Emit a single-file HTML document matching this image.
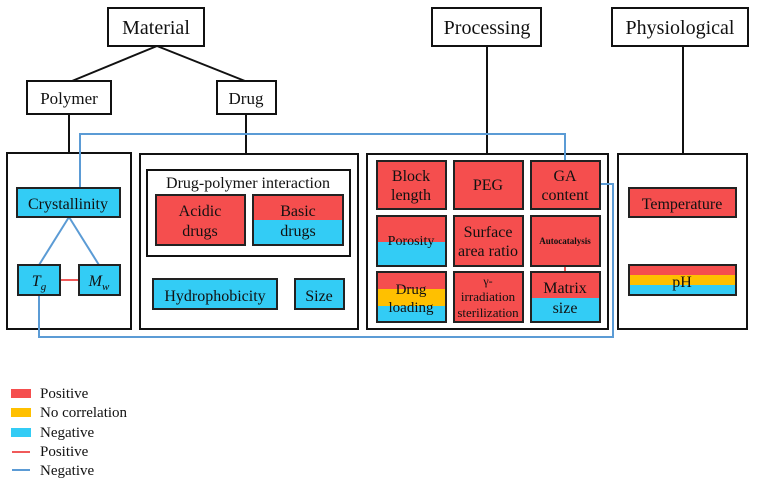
<!DOCTYPE html>
<html><head><style>
body{margin:0;background:#fff;}
svg{display:block;}
text{font-family:"Liberation Serif",serif;fill:#111;}
</style></head><body>
<svg width="758" height="485" viewBox="0 0 758 485" xmlns="http://www.w3.org/2000/svg">
<g stroke="#111" stroke-width="2" fill="none">
<line x1="157" y1="46" x2="72" y2="81"/>
<line x1="157" y1="46" x2="245" y2="81"/>
<line x1="69" y1="114" x2="69" y2="153"/>
<line x1="246" y1="114" x2="246" y2="153"/>
<line x1="487" y1="46" x2="487" y2="154"/>
<line x1="683" y1="46" x2="683" y2="154"/>
<rect x="108" y="8" width="96" height="38" fill="#fff"/>
<rect x="432" y="8" width="109" height="38" fill="#fff"/>
<rect x="612" y="8" width="136" height="38" fill="#fff"/>
<rect x="27" y="81" width="84" height="33" fill="#fff"/>
<rect x="217" y="81" width="59" height="33" fill="#fff"/>
<rect x="7" y="153" width="124" height="176"/>
<rect x="140" y="154" width="218" height="175"/>
<rect x="147" y="170" width="203" height="86"/>
<rect x="367" y="154" width="241" height="175"/>
<rect x="618" y="154" width="129" height="175"/>
</g>
<g font-size="20" text-anchor="middle">
<text x="156" y="34">Material</text>
<text x="487" y="34">Processing</text>
<text x="680" y="34">Physiological</text>
</g>
<g font-size="17" text-anchor="middle">
<text x="69" y="104">Polymer</text>
<text x="246" y="104">Drug</text>
</g>
<g stroke="#5b9bd5" stroke-width="2" fill="none">
<polyline points="80,188 80,134 565,134 565,160"/>
<polyline points="39,295 39,337 613,337 613,184 600,184"/>
<line x1="69" y1="217" x2="39" y2="265"/>
<line x1="69" y1="217" x2="99" y2="265"/>
</g>
<line x1="60" y1="280" x2="79" y2="280" stroke="#f05a5a" stroke-width="2"/>
<line x1="565" y1="266" x2="565" y2="272" stroke="#f05a5a" stroke-width="2"/>
<g stroke="#222" stroke-width="2">
<rect x="17" y="188" width="103" height="29" fill="#33ccf5"/>
<rect x="18" y="265" width="42" height="30" fill="#33ccf5"/>
<rect x="79" y="265" width="41" height="30" fill="#33ccf5"/>
<rect x="156" y="195" width="89" height="50" fill="#f54e4e"/>
<rect x="253" y="195" width="90" height="50" fill="#33ccf5"/>
<rect x="153" y="279" width="124" height="30" fill="#33ccf5"/>
<rect x="295" y="279" width="49" height="30" fill="#33ccf5"/>
<rect x="377" y="161" width="69" height="48" fill="#f54e4e"/>
<rect x="454" y="161" width="69" height="48" fill="#f54e4e"/>
<rect x="531" y="161" width="69" height="48" fill="#f54e4e"/>
<rect x="377" y="216" width="69" height="50" fill="#33ccf5"/>
<rect x="454" y="216" width="69" height="50" fill="#f54e4e"/>
<rect x="531" y="216" width="69" height="50" fill="#f54e4e"/>
<rect x="377" y="272" width="69" height="50" fill="#33ccf5"/>
<rect x="454" y="272" width="69" height="50" fill="#f54e4e"/>
<rect x="531" y="272" width="69" height="50" fill="#33ccf5"/>
<rect x="629" y="188" width="107" height="29" fill="#f54e4e"/>
<rect x="629" y="265" width="107" height="30" fill="#33ccf5"/>
</g>
<g stroke="none">
<rect x="254" y="196" width="88" height="24" fill="#f54e4e"/>
<rect x="378" y="217" width="67" height="25" fill="#f54e4e"/>
<rect x="378" y="273" width="67" height="16" fill="#f54e4e"/>
<rect x="378" y="289" width="67" height="17" fill="#ffc000"/>
<rect x="532" y="273" width="67" height="25" fill="#f54e4e"/>
<rect x="630" y="266" width="105" height="9" fill="#f54e4e"/>
<rect x="630" y="275" width="105" height="10" fill="#ffc000"/>
</g>
<g font-size="16" text-anchor="middle">
<text x="68" y="209">Crystallinity</text>
<text x="39" y="286" font-style="italic">T<tspan font-size="11" dy="4">g</tspan></text>
<text x="99" y="286" font-style="italic">M<tspan font-size="11" dy="4">w</tspan></text>
<text x="248" y="188">Drug-polymer interaction</text>
<text x="200" y="216">Acidic</text><text x="200" y="236">drugs</text>
<text x="298" y="216">Basic</text><text x="298" y="236">drugs</text>
<text x="215" y="301">Hydrophobicity</text>
<text x="319" y="301">Size</text>
<text x="411" y="181">Block</text><text x="411" y="200">length</text>
<text x="488" y="190">PEG</text>
<text x="565" y="181">GA</text><text x="565" y="200">content</text>
<text x="488" y="237">Surface</text><text x="488" y="256">area ratio</text>
<text x="565" y="293">Matrix</text><text x="565" y="313">size</text>
<text x="682" y="209">Temperature</text>
<text x="682" y="287">pH</text>
</g>
<g text-anchor="middle">
<text x="411" y="245" font-size="14">Porosity</text>
<text x="411" y="294" font-size="15">Drug</text><text x="411" y="312" font-size="15">loading</text>
<text x="488" y="285" font-size="12">γ-</text>
<text x="488" y="301" font-size="13">irradiation</text>
<text x="488" y="317" font-size="13">sterilization</text>
<text x="565" y="244" font-size="9" font-weight="bold">Autocatalysis</text>
</g>
<g>
<rect x="11" y="389" width="20" height="9" fill="#f54e4e"/>
<rect x="11" y="408" width="20" height="9" fill="#ffc000"/>
<rect x="11" y="428" width="20" height="9" fill="#33ccf5"/>
<line x1="12" y1="452" x2="30" y2="452" stroke="#f05a5a" stroke-width="2"/>
<line x1="12" y1="470" x2="30" y2="470" stroke="#5b9bd5" stroke-width="2"/>
</g>
<g font-size="15">
<text x="40" y="398">Positive</text>
<text x="40" y="417">No correlation</text>
<text x="40" y="437">Negative</text>
<text x="40" y="456">Positive</text>
<text x="40" y="475">Negative</text>
</g>
</svg>
</body></html>
